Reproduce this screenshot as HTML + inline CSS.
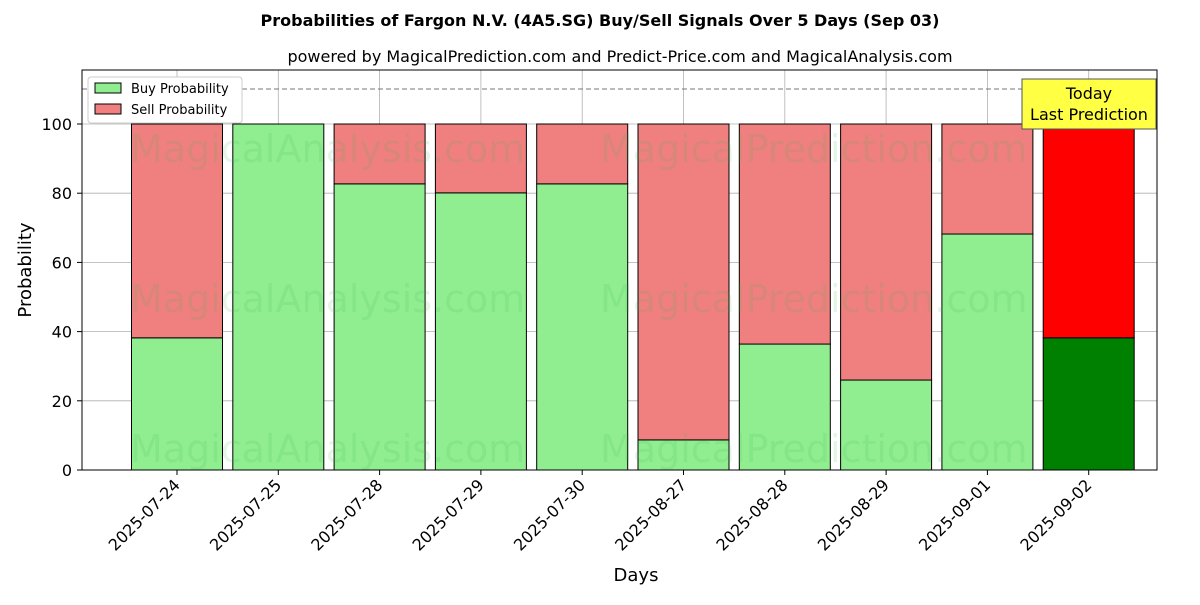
<!DOCTYPE html>
<html><head><meta charset="utf-8"><style>
body{margin:0;background:#fff;font-family:"Liberation Sans","DejaVu Sans",sans-serif;}
</style></head><body>
<svg width="1200" height="600" xmlns="http://www.w3.org/2000/svg" font-family="DejaVu Sans, Liberation Sans, sans-serif">
<rect width="1200" height="600" fill="#fff"/>
<text x="600" y="26" text-anchor="middle" font-size="16" font-weight="bold">Probabilities of Fargon N.V. (4A5.SG) Buy/Sell Signals Over 5 Days (Sep 03)</text>
<text x="620" y="62" text-anchor="middle" font-size="16">powered by MagicalPrediction.com and Predict-Price.com and MagicalAnalysis.com</text>
<g id="grid"></g>
<g id="bars"></g>
<g font-size="38" fill="#3cb44b" opacity="0.13">
<text x="130" y="162">MagicalAnalysis.com</text><text x="600" y="162">MagicalPrediction.com</text>
<text x="130" y="312">MagicalAnalysis.com</text><text x="600" y="312">MagicalPrediction.com</text>
<text x="130" y="462">MagicalAnalysis.com</text><text x="600" y="462">MagicalPrediction.com</text>
</g>
<line x1="82" x2="1157" y1="89" y2="89" stroke="#777" stroke-dasharray="5,3"/>
<g id="axes"></g>
<rect x="82" y="70" width="1075" height="400" fill="none" stroke="#000"/>
<text x="636" y="581" text-anchor="middle" font-size="18">Days</text>
<text transform="translate(31,270) rotate(-90)" text-anchor="middle" font-size="18">Probability</text>
<g>
<rect x="88" y="77" width="154" height="46" fill="#fff" stroke="#ccc" rx="3"/>
<rect x="95" y="83" width="26" height="10" fill="#90ee90" stroke="#000"/>
<text x="131" y="93" font-size="13">Buy Probability</text>
<rect x="95" y="104" width="26" height="10" fill="#f08080" stroke="#000"/>
<text x="131" y="114" font-size="13">Sell Probability</text>
</g>
<g>
<rect x="1022" y="79" width="134" height="50" fill="#ffff44" stroke="#555"/>
<text x="1089" y="99" text-anchor="middle" font-size="16">Today</text>
<text x="1089" y="120" text-anchor="middle" font-size="16">Last Prediction</text>
</g>
</svg>
<script>
const categories=["2025-07-24","2025-07-25","2025-07-28","2025-07-29","2025-07-30","2025-08-27","2025-08-28","2025-08-29","2025-09-01","2025-09-02"];
const buyValues=[38.2,100,82.7,80.1,82.7,8.7,36.4,26.0,68.2,38.2];
const yTicks=[0,20,40,60,80,100];
const NS="http://www.w3.org/2000/svg";
const y0=470,pxPerUnit=3.46,x0=177,step=101.3,bw=91;
const yS=v=>y0-v*pxPerUnit, xS=i=>x0+i*step;
function mk(t,a,p){const e=document.createElementNS(NS,t);for(const k in a)e.setAttribute(k,a[k]);p.appendChild(e);return e;}
const grid=document.getElementById('grid'),bars=document.getElementById('bars'),axes=document.getElementById('axes');
yTicks.forEach(v=>{
 const l=mk('line',{x1:82,x2:1157,y1:yS(v),y2:yS(v),stroke:'#b0b0b0','stroke-width':0.8},grid);
 
 
 const tk=mk('line',{x1:77,x2:82,y1:yS(v),y2:yS(v),stroke:'#000'},axes);
 
 
 const t=mk('text',{x:72,y:yS(v)+6,'text-anchor':'end','font-size':16},axes);
 t.textContent=v;
 
 
});
categories.forEach((c,i)=>{
 const x=xS(i),last=i===categories.length-1,b=buyValues[i];
 const g=mk('line',{x1:x,x2:x,y1:70,y2:470,stroke:'#b0b0b0','stroke-width':0.8},grid);
 
 
 const r1=mk('rect',{x:x-bw/2,y:yS(b),width:bw,height:b*pxPerUnit,fill:last?'#008000':'#90ee90',stroke:'#000'},bars);
 
 
 const r2=mk('rect',{x:x-bw/2,y:yS(100),width:bw,height:(100-b)*pxPerUnit,fill:last?'#ff0000':'#f08080',stroke:'#000'},bars);
 
 
 const tk=mk('line',{x1:x,x2:x,y1:470,y2:475,stroke:'#000'},axes);
 
 
 const t=mk('text',{x:x+4,y:486,'text-anchor':'end','font-size':16,transform:`rotate(-45 ${x+4} 486)`},axes);
 t.textContent=c;
 
 
});
</script>
</body></html>
